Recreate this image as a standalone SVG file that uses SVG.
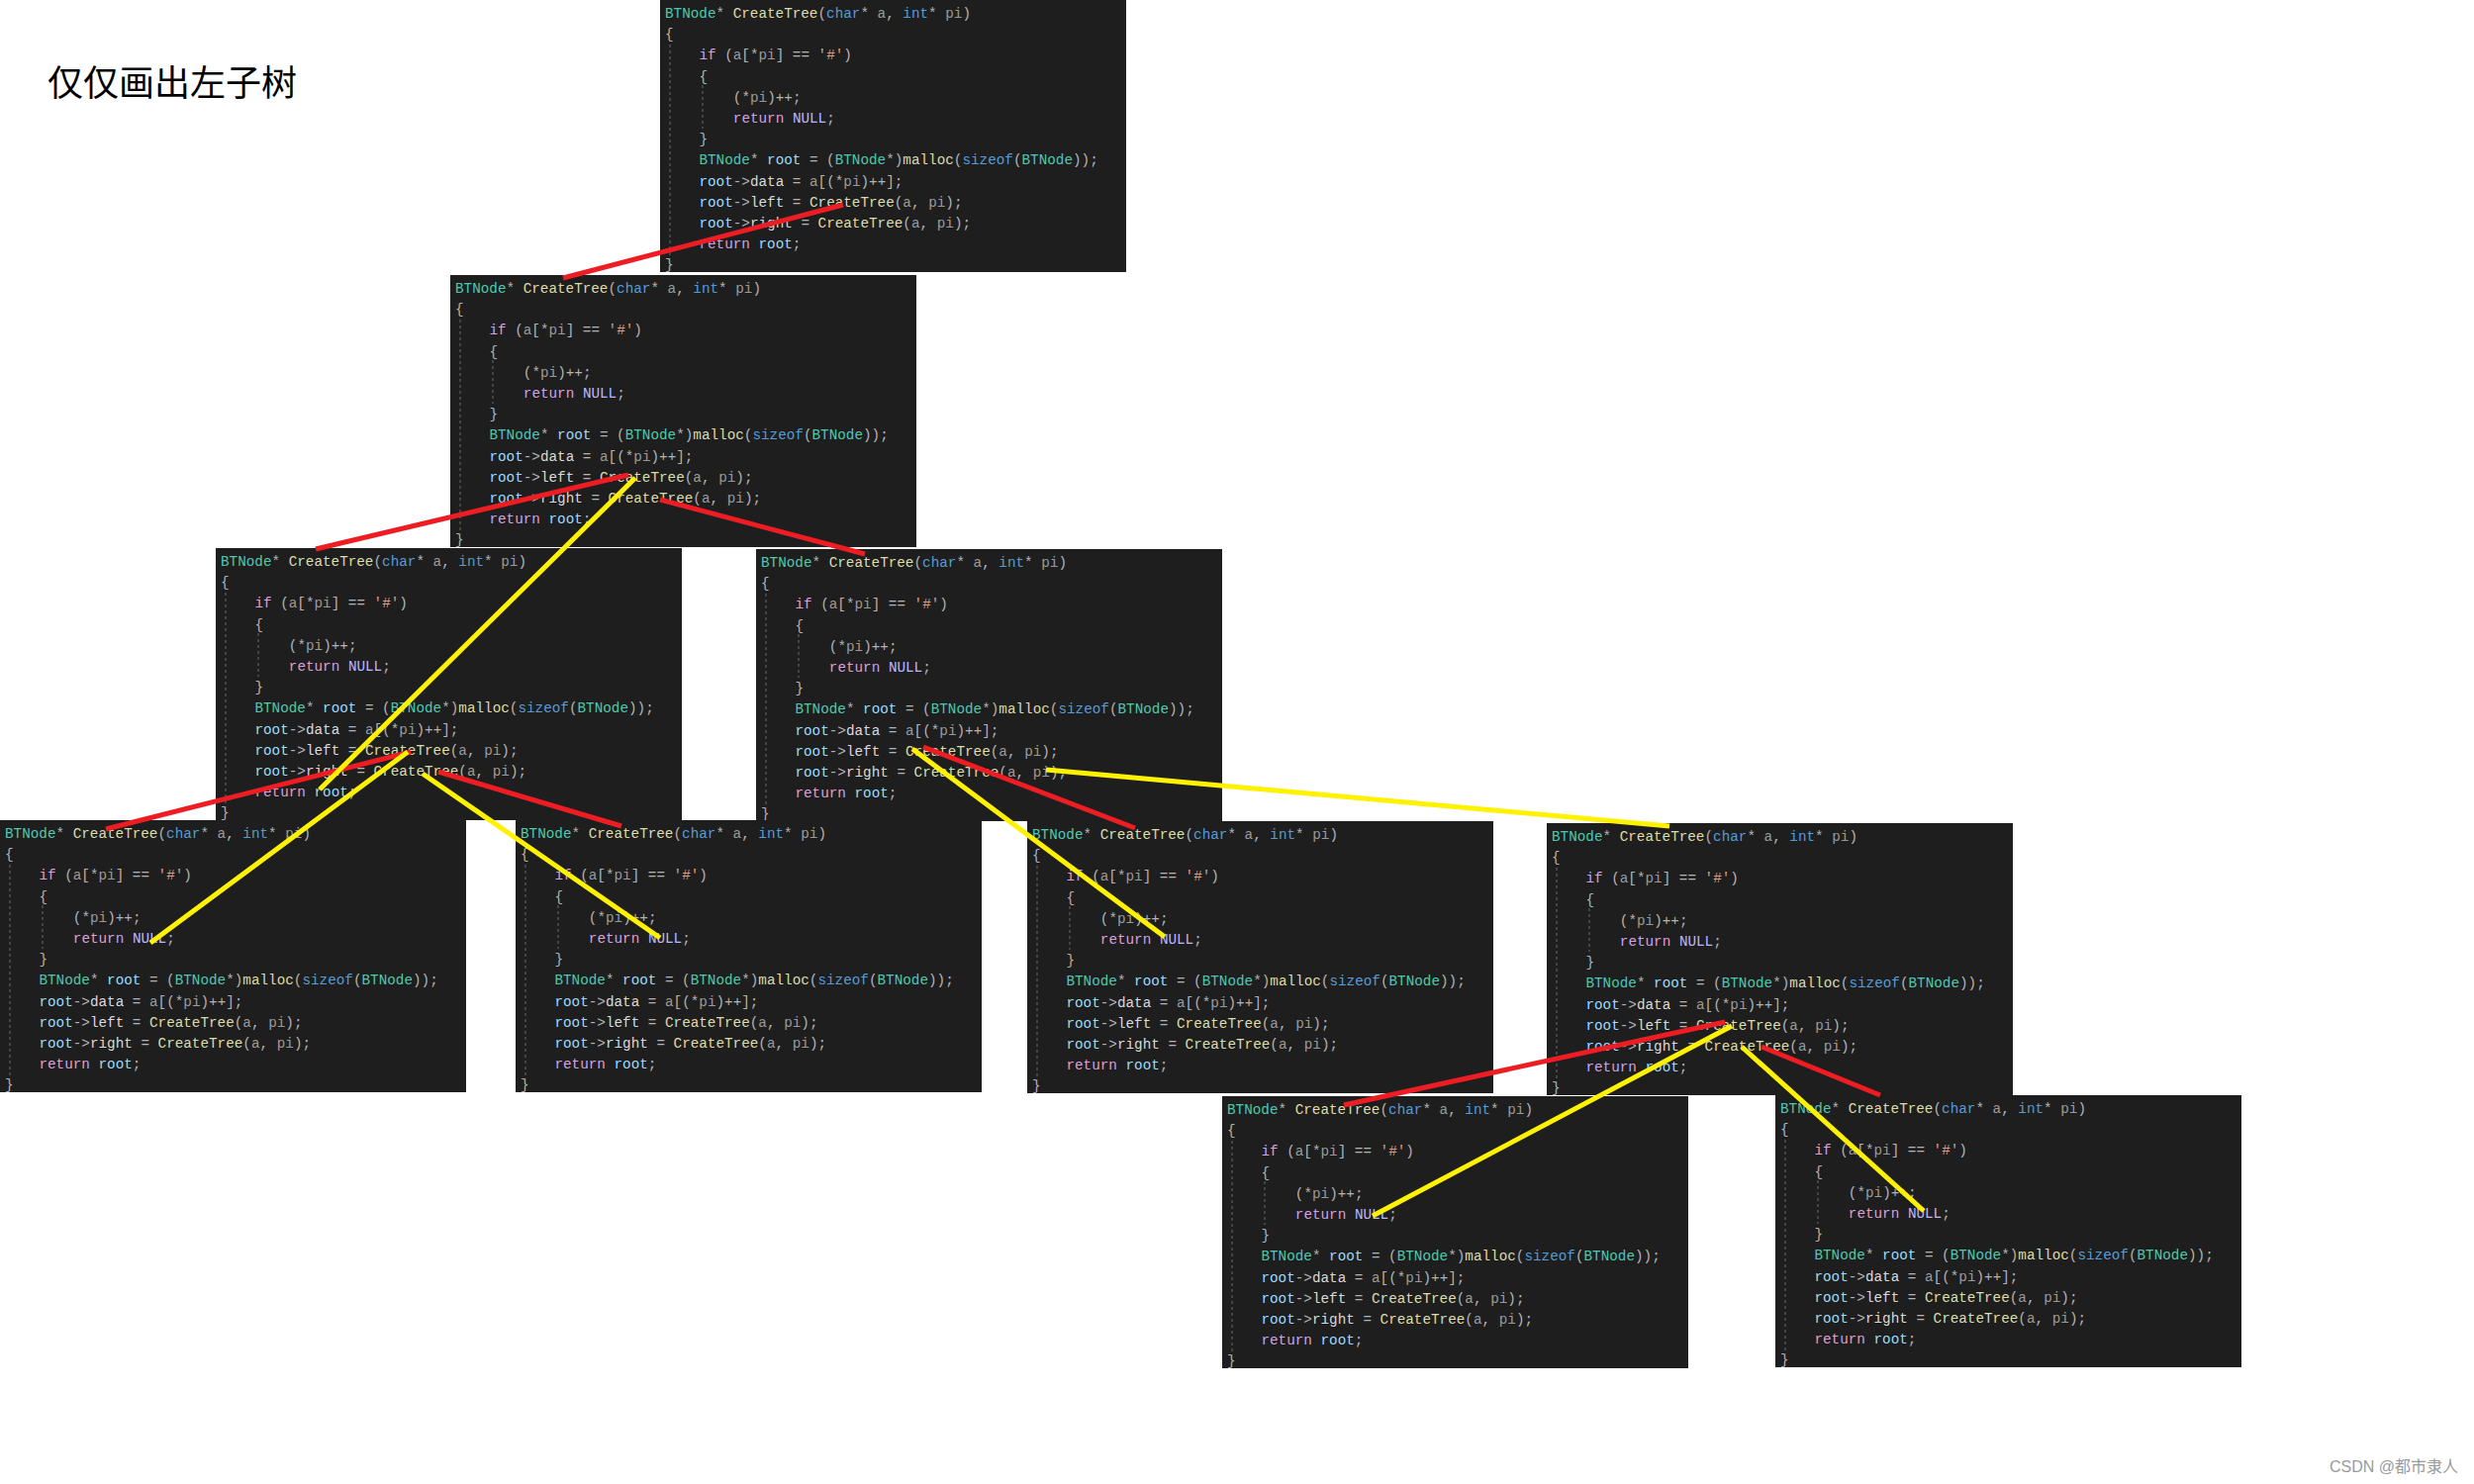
<svg xmlns="http://www.w3.org/2000/svg" xmlns:xlink="http://www.w3.org/1999/xlink" width="2500" height="1500" viewBox="0 0 2500 1500">
<style>
.bg{fill:#1e1e1e}
.guide{stroke:#6a6a6a;stroke-width:1;stroke-dasharray:3 3;fill:none}
.c{font-family:"Liberation Mono","DejaVu Sans Mono",monospace;font-size:14.3px;fill:#b4b4b4;white-space:pre}
.ty{fill:#4ec9b0}
.fn{fill:#dcdcaa}
.kw{fill:#569cd6}
.pa{fill:#9a9a9a}
.ct{fill:#d8a0df}
.mac{fill:#beb7ff}
.lv{fill:#9cdcfe}
.mb{fill:#dadada}
.ch{fill:#d69d85}
.red{stroke:#ee1d23;stroke-width:5;fill:none}
.yel{stroke:#fff200;stroke-width:5;fill:none}
.title{font-family:"Noto Sans CJK SC","Noto Sans",sans-serif;font-size:36px;fill:#000}
.wm{font-family:"Liberation Sans","Noto Sans CJK SC",sans-serif;font-size:16px;fill:#9a9a9a}
</style>
<defs>
<g id="code">
<rect class="bg" width="471" height="275"/>
<path class="guide" d="M10 45V262M43 86V130"/>
<text class="c" x="5" y="18"><tspan class="ty">BTNode</tspan>* <tspan class="fn">CreateTree</tspan>(<tspan class="kw">char</tspan>* <tspan class="pa">a</tspan>, <tspan class="kw">int</tspan>* <tspan class="pa">pi</tspan>)</text>
<text class="c" x="5" y="39">{</text>
<text class="c" x="39.4" y="60"><tspan class="ct">if</tspan> (<tspan class="pa">a</tspan>[*<tspan class="pa">pi</tspan>] == <tspan class="ch">'#'</tspan>)</text>
<text class="c" x="39.4" y="82">{</text>
<text class="c" x="73.8" y="103">(*<tspan class="pa">pi</tspan>)++;</text>
<text class="c" x="73.8" y="124"><tspan class="ct">return</tspan> <tspan class="mac">NULL</tspan>;</text>
<text class="c" x="39.4" y="145">}</text>
<text class="c" x="39.4" y="166"><tspan class="ty">BTNode</tspan>* <tspan class="lv">root</tspan> = (<tspan class="ty">BTNode</tspan>*)<tspan class="fn">malloc</tspan>(<tspan class="kw">sizeof</tspan>(<tspan class="ty">BTNode</tspan>));</text>
<text class="c" x="39.4" y="188"><tspan class="lv">root</tspan>-&gt;<tspan class="mb">data</tspan> = <tspan class="pa">a</tspan>[(*<tspan class="pa">pi</tspan>)++];</text>
<text class="c" x="39.4" y="209"><tspan class="lv">root</tspan>-&gt;<tspan class="mb">left</tspan> = <tspan class="fn">CreateTree</tspan>(<tspan class="pa">a</tspan>, <tspan class="pa">pi</tspan>);</text>
<text class="c" x="39.4" y="230"><tspan class="lv">root</tspan>-&gt;<tspan class="mb">right</tspan> = <tspan class="fn">CreateTree</tspan>(<tspan class="pa">a</tspan>, <tspan class="pa">pi</tspan>);</text>
<text class="c" x="39.4" y="251"><tspan class="ct">return</tspan> <tspan class="lv">root</tspan>;</text>
<text class="c" x="5" y="272">}</text>
</g>
</defs>
<rect width="2500" height="1500" fill="#ffffff"/>
<text class="title" x="48" y="97">仅仅画出左子树</text>
<g id="node1" transform="translate(667,0)"><use xlink:href="#code" href="#code"/></g>
<g id="node2" transform="translate(455,278)"><use xlink:href="#code" href="#code"/></g>
<g id="node3" transform="translate(218,554)"><use xlink:href="#code" href="#code"/></g>
<g id="node4" transform="translate(764,555)"><use xlink:href="#code" href="#code"/></g>
<g id="node5" transform="translate(0,829)"><use xlink:href="#code" href="#code"/></g>
<g id="node6" transform="translate(521,829)"><use xlink:href="#code" href="#code"/></g>
<g id="node7" transform="translate(1038,830)"><use xlink:href="#code" href="#code"/></g>
<g id="node8" transform="translate(1563,832)"><use xlink:href="#code" href="#code"/></g>
<g id="node9" transform="translate(1235,1108)"><use xlink:href="#code" href="#code"/></g>
<g id="node10" transform="translate(1794,1107)"><use xlink:href="#code" href="#code"/></g>
<g id="connectors">
<line class="red" x1="569" y1="281" x2="852" y2="207"/>
<line class="red" x1="319" y1="555" x2="635" y2="480"/>
<line class="red" x1="667" y1="505" x2="874" y2="560"/>
<line class="red" x1="107" y1="838" x2="415" y2="760"/>
<line class="red" x1="443" y1="780" x2="628" y2="835"/>
<line class="red" x1="933" y1="755" x2="1147" y2="837"/>
<line class="red" x1="1358" y1="1117" x2="1743" y2="1033"/>
<line class="red" x1="1780" y1="1058" x2="1900" y2="1107"/>
<line class="yel" x1="642" y1="483" x2="323" y2="798"/>
<line class="yel" x1="412" y1="760" x2="152" y2="953"/>
<line class="yel" x1="427" y1="782" x2="667" y2="948"/>
<line class="yel" x1="922" y1="757" x2="1177" y2="947"/>
<line class="yel" x1="1057" y1="778" x2="1687" y2="835"/>
<line class="yel" x1="1750" y1="1037" x2="1387" y2="1229"/>
<line class="yel" x1="1760" y1="1058" x2="1944" y2="1224"/>
</g>
<text class="wm" x="2484" y="1488" text-anchor="end">CSDN @都市隶人</text>
</svg>
